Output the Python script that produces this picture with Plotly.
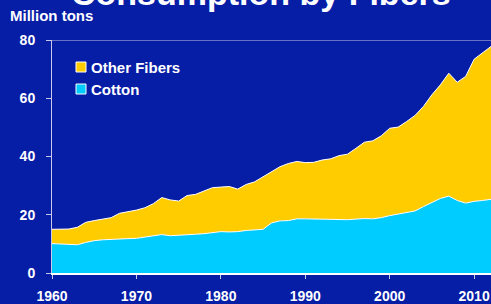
import plotly.graph_objects as go

years = list(range(1960, 2013))
cotton = [10.1, 10.0, 9.8, 9.7, 10.5, 11.1, 11.4, 11.6, 11.7, 11.8,
          11.9, 12.3, 12.8, 13.2, 12.8, 12.9, 13.2, 13.3, 13.5, 13.8,
          14.2, 14.1, 14.2, 14.6, 14.7, 15.0, 17.2, 17.9, 18.0, 18.6,
          18.6, 18.5, 18.5, 18.4, 18.3, 18.3, 18.5, 18.7, 18.6, 19.0,
          19.7, 20.2, 20.7, 21.3, 22.8, 24.3, 25.6, 26.4, 24.9, 24.0,
          24.6, 24.9, 25.3]
other_fibers = [4.9, 5.0, 5.3, 6.0, 6.9, 6.9, 7.2, 7.4, 8.8, 9.2,
                9.7, 10.1, 11.0, 12.7, 12.3, 11.8, 13.4, 13.7, 14.6, 15.5,
                15.3, 15.6, 14.6, 15.8, 16.6, 18.0, 17.6, 18.6, 19.6, 19.7,
                19.3, 19.5, 20.3, 20.8, 22.0, 22.5, 24.3, 26.2, 26.8, 28.1,
                30.0, 29.9, 31.3, 32.8, 34.4, 36.9, 39.0, 42.2, 40.6, 43.5,
                48.8, 50.6, 52.5]
x_ticks = [1960, 1970, 1980, 1990, 2000, 2010]
y_ticks = [0, 20, 40, 60, 80]
legend_names = ["Other Fibers", "Cotton"]

BG = "#061DA6"
CYAN = "#00CCFF"
GOLD = "#FFCC00"
AXIS = "#C8C8E8"
FONT = "Arial, Liberation Sans, sans-serif"

W, H = 491, 304
L, R, T, B = 52, 0, 40, 31
PW, PH = W - L - R, H - T - B


def px(x):
    return (x - L) / PW


def py(y):
    return 1 - (y - T) / PH


fig = go.Figure()
fig.add_trace(go.Scatter(x=years, y=cotton, stackgroup="s", mode="lines",
                         line=dict(color="white", width=1), fillcolor=CYAN,
                         showlegend=False, name="Cotton"))
fig.add_trace(go.Scatter(x=years, y=other_fibers, stackgroup="s", mode="lines",
                         line=dict(color="white", width=1), fillcolor=GOLD,
                         showlegend=False, name="Other Fibers"))

shapes = [dict(type="line", xref="paper", yref="y", x0=0, x1=1, y0=80, y1=80,
               line=dict(color=AXIS, width=1))]
annotations = [
    dict(text="<b>Consumption by Fibers</b>", xref="paper", yref="paper",
         x=px(261), y=py(14), xanchor="center", yanchor="bottom",
         showarrow=False, font=dict(size=34, color="white", family=FONT)),
    dict(text="<b>Million tons</b>", xref="paper", yref="paper",
         x=px(8), y=py(15), xanchor="left", yanchor="middle",
         showarrow=False, font=dict(size=15, color="white", family=FONT)),
]
# legend drawn as swatches + labels
for i, (name, col) in enumerate(zip(legend_names, [GOLD, CYAN])):
    cy = 67 + 22 * i
    shapes.append(dict(type="rect", xref="paper", yref="paper",
                       x0=px(76), x1=px(86), y0=py(cy + 5), y1=py(cy - 5),
                       fillcolor=col, line=dict(color="white", width=1)))
    annotations.append(dict(text=f"<b>{name}</b>", xref="paper", yref="paper",
                            x=px(89), y=py(cy), xanchor="left", yanchor="middle",
                            showarrow=False,
                            font=dict(size=15, color="white", family=FONT)))

fig.update_layout(
    width=W, height=H,
    margin=dict(l=L, r=R, t=T, b=B),
    paper_bgcolor=BG, plot_bgcolor=BG,
    font=dict(family=FONT, color="white", size=14),
    showlegend=False,
    xaxis=dict(range=[1960, 2012], tickvals=x_ticks,
               ticktext=[f"<b>{t}</b>" for t in x_ticks],
               showgrid=False, zeroline=False, showline=True, automargin=False,
               linecolor="white", linewidth=1.5, ticks="outside",
               ticklen=4, tickcolor=AXIS, ticklabelstandoff=5),
    yaxis=dict(range=[0, 80], tickvals=y_ticks,
               ticktext=[f"<b>{t}</b>" for t in y_ticks],
               showgrid=False, zeroline=False, showline=True, automargin=False,
               linecolor=AXIS, linewidth=1, ticks="outside",
               ticklen=5, tickcolor=AXIS, ticklabelstandoff=8),
    shapes=shapes,
    annotations=annotations,
)

fig.write_html("out.html", config={"displayModeBar": False}, post_script=(
    "document.body.style.margin='0';document.body.style.padding='0';"
    "document.body.style.overflow='hidden';"
    "document.body.style.background='" + BG + "';"))
